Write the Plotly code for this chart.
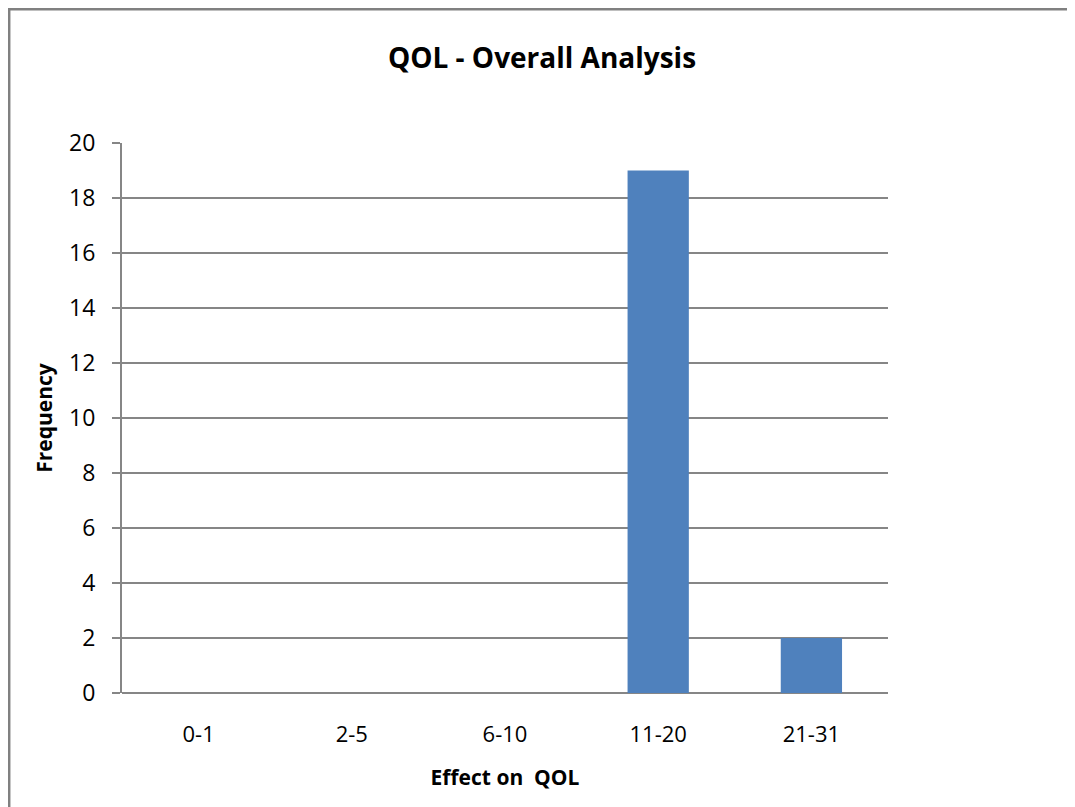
import plotly.graph_objects as go

categories = ["0-1", "2-5", "6-10", "11-20", "21-31"]
frequency = [0, 0, 0, 19, 2]
y_ticks = [0, 2, 4, 6, 8, 10, 12, 14, 16, 18, 20]

FONT = "Open Sans, Liberation Sans, sans-serif"
GRAY = "#868686"

OFF = 8  # html body margin
W, H = 1075 - OFF, 807 - OFF
L, R, T, B = 122 - OFF, 1075 - 888, 143 - OFF, 807 - 693
pw, ph = W - L - R, H - T - B

def px_x(x):
    return (x - OFF - L) / pw

def px_y(y):
    return (H - B - (y - OFF)) / ph

fig = go.Figure()
fig.add_trace(go.Bar(
    x=categories, y=frequency,
    marker=dict(color="#4F81BD", line=dict(width=0)),
    width=0.4,
))

fig.update_layout(
    width=W, height=H,
    margin=dict(l=L, r=R, t=T, b=B, pad=0),
    paper_bgcolor="white", plot_bgcolor="white",
    showlegend=False,
    font=dict(family=FONT, size=22, color="black"),
    title=dict(text="<b>QOL - Overall Analysis</b>", x=px_x(542), xref="paper",
               xanchor="center", y=1 - (58 - OFF) / H, yanchor="middle",
               font=dict(size=28, family=FONT)),
    xaxis=dict(
        showgrid=False, showline=False, ticks="", zeroline=False,
        tickfont=dict(size=22), ticklabelstandoff=26,
        title=dict(text="<b>Effect on\u00a0\u00a0QOL</b>", font=dict(size=21), standoff=23),
    ),
    yaxis=dict(
        range=[0, 20], tickvals=y_ticks, showgrid=True, gridcolor=GRAY, gridwidth=2,
        zeroline=True, zerolinecolor=GRAY, zerolinewidth=2,
        showline=True, linecolor=GRAY, linewidth=2,
        ticks="outside", ticklen=8, tickcolor=GRAY, tickwidth=2,
        tickfont=dict(size=23), ticklabelstandoff=12,
        title=dict(text="<b>Frequency</b>", font=dict(size=21), standoff=11),
    ),
    bargap=0.6,
)

# chart border (only top and left edges visible in the crop)
fig.add_shape(type="line", xref="paper", yref="paper",
              x0=px_x(8), x1=px_x(1090), y0=px_y(9.2), y1=px_y(9.2),
              line=dict(color="#808080", width=2.5))
fig.add_shape(type="line", xref="paper", yref="paper",
              x0=px_x(9.2), x1=px_x(9.2), y0=px_y(8), y1=px_y(820),
              line=dict(color="#808080", width=2.5))

fig.write_html("out.html")
